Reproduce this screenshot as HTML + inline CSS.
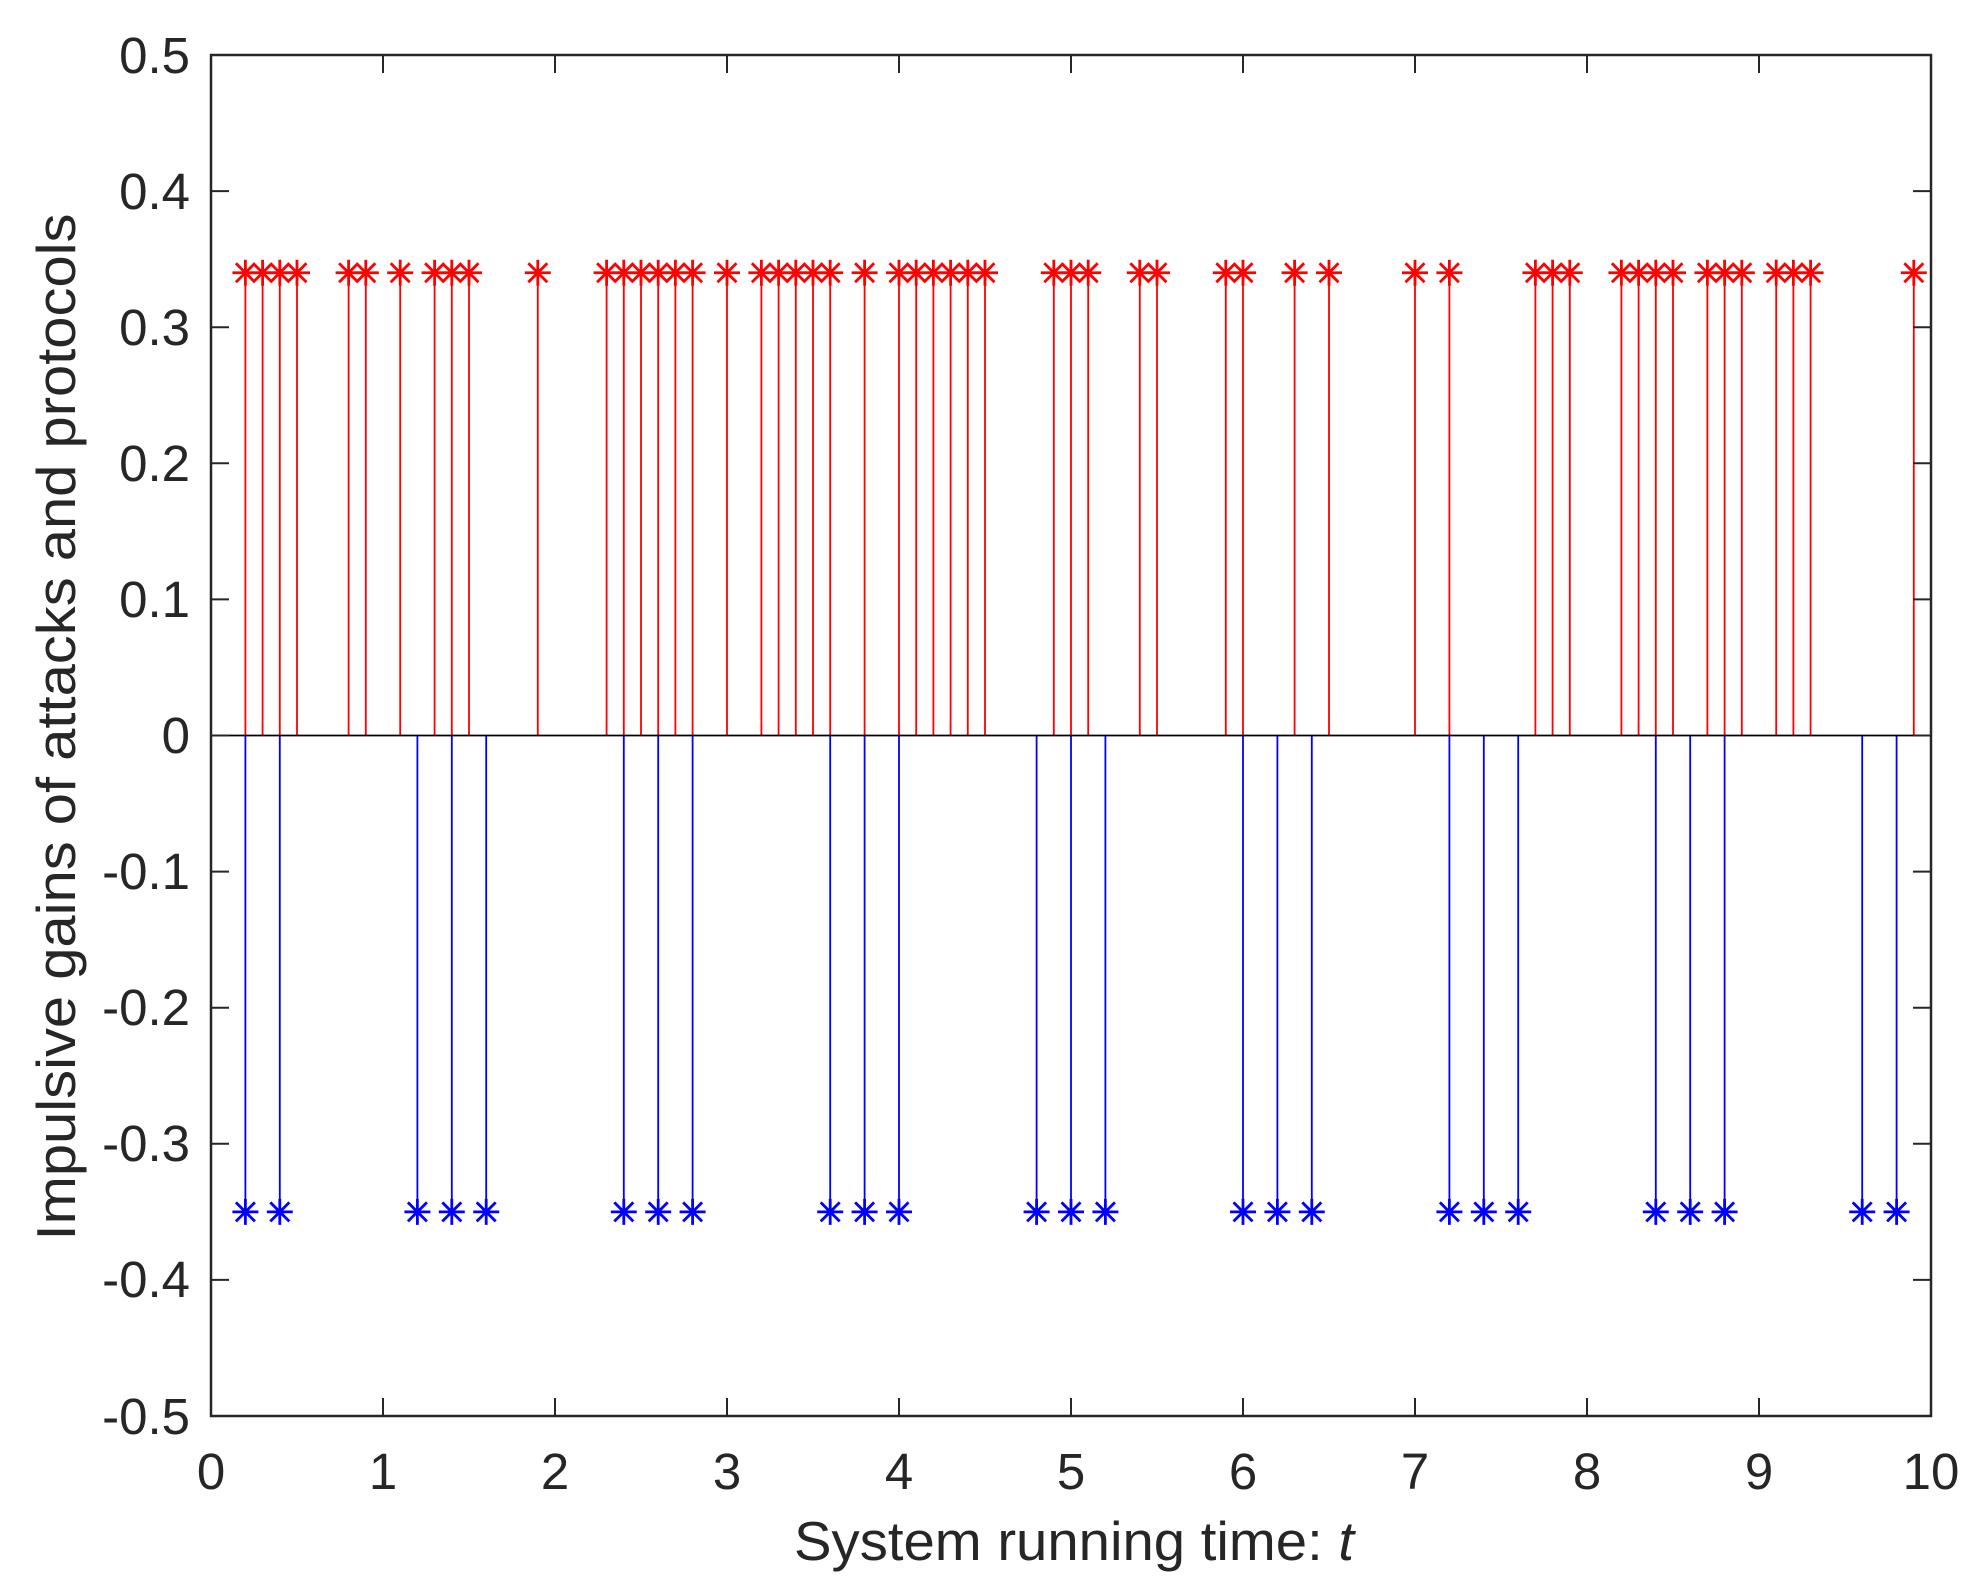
<!DOCTYPE html>
<html><head><meta charset="utf-8"><style>html,body{margin:0;padding:0;background:#fff}svg{display:block}</style></head>
<body>
<svg id="s" width="1975" height="1596" xmlns="http://www.w3.org/2000/svg" font-family="Liberation Sans, Arial, sans-serif" fill="#262626">
<rect width="1975" height="1596" fill="#fff"/>
<g id="data"></g>
<rect x="211" y="55" width="1720" height="1361" fill="none" stroke="#262626" stroke-width="2.5"/>
<g id="ticks" stroke="#262626" stroke-width="2"></g>
<g font-size="51" text-anchor="end">
<text x="190" y="73">0.5</text>
<text x="190" y="209">0.4</text>
<text x="190" y="345">0.3</text>
<text x="190" y="481">0.2</text>
<text x="190" y="617">0.1</text>
<text x="190" y="753">0</text>
<text x="190" y="889">-0.1</text>
<text x="190" y="1025">-0.2</text>
<text x="190" y="1161">-0.3</text>
<text x="190" y="1297">-0.4</text>
<text x="190" y="1434">-0.5</text>
</g>
<g font-size="51" text-anchor="middle">
<text x="211" y="1489">0</text>
<text x="383" y="1489">1</text>
<text x="555" y="1489">2</text>
<text x="727" y="1489">3</text>
<text x="899" y="1489">4</text>
<text x="1071" y="1489">5</text>
<text x="1243" y="1489">6</text>
<text x="1415" y="1489">7</text>
<text x="1587" y="1489">8</text>
<text x="1759" y="1489">9</text>
<text x="1931" y="1489">10</text>
</g>
<text x="794" y="1560" font-size="55" textLength="560" lengthAdjust="spacingAndGlyphs">System running time:  <tspan font-style="italic">t</tspan></text>
<text transform="translate(75,727) rotate(-90)" font-size="55" text-anchor="middle" textLength="1027" lengthAdjust="spacingAndGlyphs">Impulsive gains of attacks and protocols</text>
</svg>
<script>
var X=function(v){return 211+172*v;},Y=function(v){return 735.5-1361*v;};
var red=[0.2,0.3,0.4,0.5,0.8,0.9,1.1,1.3,1.4,1.5,1.9,2.3,2.4,2.5,2.6,2.7,2.8,3.0,3.2,3.3,3.4,3.5,3.6,3.8,4.0,4.1,4.2,4.3,4.4,4.5,4.9,5.0,5.1,5.4,5.5,5.9,6.0,6.3,6.5,7.0,7.2,7.7,7.8,7.9,8.2,8.3,8.4,8.5,8.7,8.8,8.9,9.1,9.2,9.3,9.9];
var blue=[0.2,0.4,1.2,1.4,1.6,2.4,2.6,2.8,3.6,3.8,4.0,4.8,5.0,5.2,6.0,6.2,6.4,7.2,7.4,7.6,8.4,8.6,8.8,9.6,9.8];
var h='';
function star(x,y,c){var r=13,d=9.5;return '<path d="M'+(x-r)+' '+y+'H'+(x+r)+'M'+x+' '+(y-r)+'V'+(y+r)+'M'+(x-d)+' '+(y-d)+'L'+(x+d)+' '+(y+d)+'M'+(x-d)+' '+(y+d)+'L'+(x+d)+' '+(y-d)+'" stroke="'+c+'" stroke-width="2.8" fill="none"/>';}
red.forEach(function(v){var x=X(v),y=Y(0.34);h+='<line x1="'+x+'" y1="735.5" x2="'+x+'" y2="'+y+'" stroke="#f00" stroke-width="1.8"/>'+star(x,y,'#f00');});
blue.forEach(function(v){var x=X(v),y=Y(-0.35);h+='<line x1="'+x+'" y1="735.5" x2="'+x+'" y2="'+y+'" stroke="#00f" stroke-width="1.8"/>'+star(x,y,'#00f');});
h+='<line x1="211" y1="735.5" x2="1931" y2="735.5" stroke="#000" stroke-width="1.8"/>';
document.getElementById('data').innerHTML=h;
var t='';
for(var i=1;i<10;i++){var x=X(i);t+='<line x1="'+x+'" y1="1416" x2="'+x+'" y2="1398"/><line x1="'+x+'" y1="55" x2="'+x+'" y2="73"/>';}
for(var j=-4;j<=4;j++){var y=Y(j/10);t+='<line x1="211" y1="'+y+'" x2="229" y2="'+y+'"/><line x1="1931" y1="'+y+'" x2="1913" y2="'+y+'"/>';}
document.getElementById('ticks').innerHTML=t;
</script>
</body></html>
